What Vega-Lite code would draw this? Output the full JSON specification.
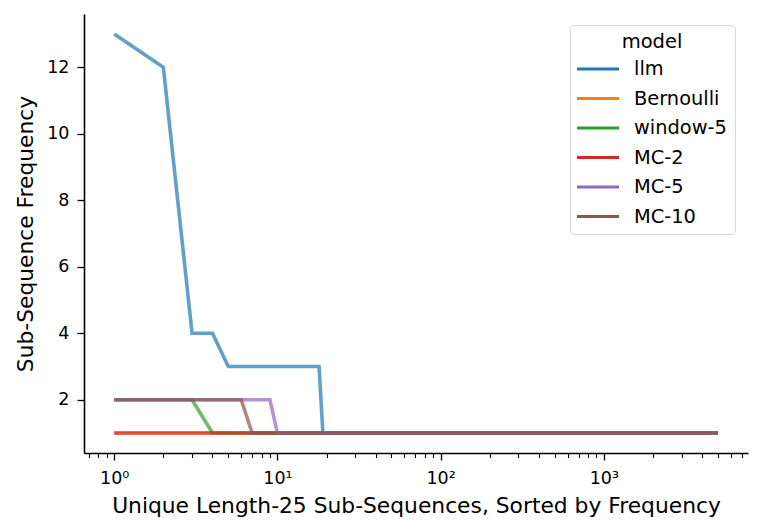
{
  "$schema": "https://vega.github.io/schema/vega-lite/v6.json",
  "width": 664,
  "height": 439,
  "autosize": "none",
  "padding": {"left": 84, "top": 14, "right": 12, "bottom": 79},
  "config": {
    "view": {"stroke": null},
    "font": "DejaVu Sans",
    "axis": {
      "labelColor": "black", "titleColor": "black", "domainColor": "black", "tickColor": "black",
      "labelFont": "DejaVu Sans", "titleFont": "DejaVu Sans", "titleFontWeight": "normal",
      "labelFontSize": 17.5, "titleFontSize": 21.8, "grid": false, "domainWidth": 1.6, "tickWidth": 1.3
    },
    "legend": {"labelFont": "DejaVu Sans", "titleFont": "DejaVu Sans"}
  },
  "data": {
    "values": [
      {"model": "llm", "rank": 1, "freq": 13},
      {"model": "llm", "rank": 2, "freq": 12},
      {"model": "llm", "rank": 3, "freq": 4},
      {"model": "llm", "rank": 4, "freq": 4},
      {"model": "llm", "rank": 5, "freq": 3},
      {"model": "llm", "rank": 18, "freq": 3},
      {"model": "llm", "rank": 19, "freq": 1},
      {"model": "llm", "rank": 5000, "freq": 1},
      {"model": "Bernoulli", "rank": 1, "freq": 1},
      {"model": "Bernoulli", "rank": 5000, "freq": 1},
      {"model": "window-5", "rank": 1, "freq": 2},
      {"model": "window-5", "rank": 3, "freq": 2},
      {"model": "window-5", "rank": 4, "freq": 1},
      {"model": "window-5", "rank": 5000, "freq": 1},
      {"model": "MC-2", "rank": 1, "freq": 1},
      {"model": "MC-2", "rank": 5000, "freq": 1},
      {"model": "MC-5", "rank": 1, "freq": 2},
      {"model": "MC-5", "rank": 9, "freq": 2},
      {"model": "MC-5", "rank": 10, "freq": 1},
      {"model": "MC-5", "rank": 5000, "freq": 1},
      {"model": "MC-10", "rank": 1, "freq": 2},
      {"model": "MC-10", "rank": 6, "freq": 2},
      {"model": "MC-10", "rank": 7, "freq": 1},
      {"model": "MC-10", "rank": 5000, "freq": 1}
    ]
  },
  "resolve": {"axis": {"x": "independent"}},
  "layer": [
    {
      "mark": {"type": "point", "opacity": 0},
      "encoding": {
        "x": {
          "field": "rank", "type": "quantitative",
          "scale": {"type": "log", "domain": [0.653, 7650], "nice": false},
          "axis": {
            "orient": "bottom", "title": null, "labels": false, "domain": false,
            "tickSize": 4.5, "tickWidth": 1.1,
            "values": [0.7, 0.8, 0.9, 2, 3, 4, 5, 6, 7, 8, 9, 20, 30, 40, 50, 60, 70, 80, 90, 200, 300, 400, 500, 600, 700, 800, 900, 2000, 3000, 4000, 5000, 6000, 7000]
          }
        },
        "y": {"field": "freq", "type": "quantitative", "scale": {"domain": [0.4, 13.6], "nice": false, "zero": false}}
      }
    },
    {
      "mark": {"type": "line", "strokeWidth": 3.6, "opacity": 0.7},
      "encoding": {
        "x": {
          "field": "rank", "type": "quantitative",
          "scale": {"type": "log", "domain": [0.653, 7650], "nice": false},
          "axis": {
            "orient": "bottom",
            "title": "Unique Length-25 Sub-Sequences, Sorted by Frequency",
            "values": [1, 10, 100, 1000],
            "labelExpr": "datum.value == 1 ? '10⁰' : datum.value == 10 ? '10¹' : datum.value == 100 ? '10²' : '10³'",
            "tickSize": 7, "labelPadding": 9, "titlePadding": 9, "labelFlush": false
          }
        },
        "y": {
          "field": "freq", "type": "quantitative",
          "scale": {"domain": [0.4, 13.6], "nice": false, "zero": false},
          "axis": {
            "title": "Sub-Sequence Frequency",
            "values": [2, 4, 6, 8, 10, 12],
            "tickSize": 7, "labelPadding": 8, "titlePadding": 9
          }
        },
        "color": {
          "field": "model", "type": "nominal",
          "sort": ["llm", "Bernoulli", "window-5", "MC-2", "MC-5", "MC-10"],
          "scale": {
            "domain": ["llm", "Bernoulli", "window-5", "MC-2", "MC-5", "MC-10"],
            "range": ["#1f77b4", "#ff7f0e", "#2ca02c", "#d62728", "#9467bd", "#8c564b"]
          },
          "legend": {
            "orient": "none", "legendX": 486, "legendY": 11,
            "title": "model", "titleFontSize": 19.5, "titleFontWeight": "normal", "titleColor": "black",
            "titleAnchor": "middle", "titleAlign": "center", "titlePadding": 4,
            "labelFontSize": 19.4, "labelColor": "black",
            "symbolType": "M-1.286,0H2.714", "symbolSize": 441, "symbolStrokeWidth": 3.2, "symbolOpacity": 1,
            "labelOffset": 31, "rowPadding": 7.5,
            "fillColor": "white", "strokeColor": "#d6d6d6", "cornerRadius": 4, "padding": 8
          }
        }
      }
    }
  ]
}
